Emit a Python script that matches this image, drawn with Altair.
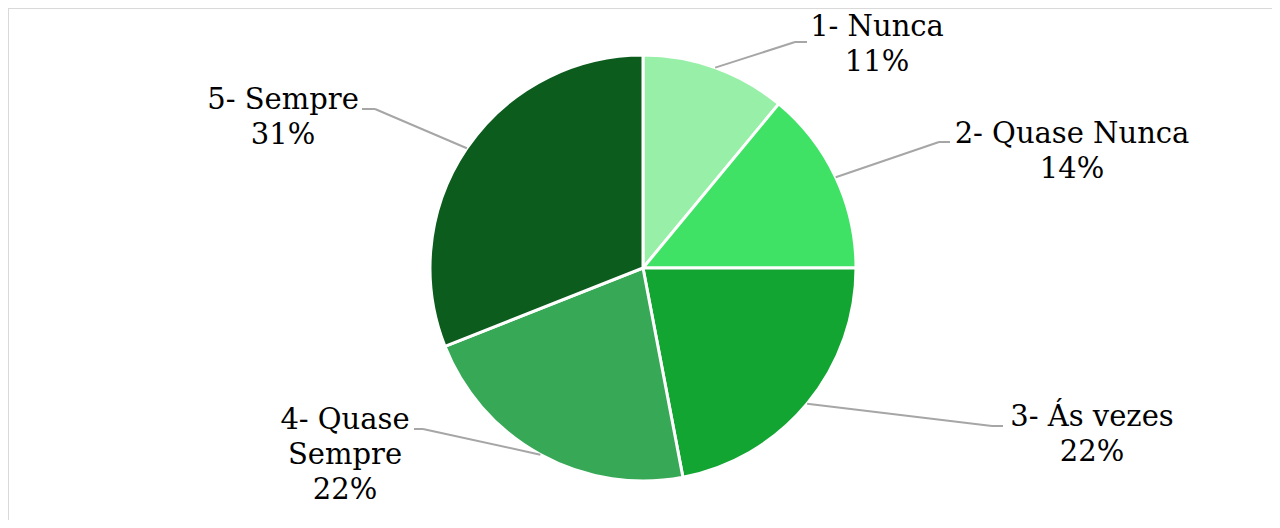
import altair as alt
import pandas as pd

# ---- data ----
categories = ["1- Nunca", "2- Quase Nunca", "3- Ás vezes", "4- Quase Sempre", "5- Sempre"]
label_lines = ["1- Nunca", "2- Quase Nunca", "3- Ás vezes", "4- Quase\nSempre", "5- Sempre"]
percents = [11, 14, 22, 22, 31]
colors = ["#98F0A8", "#3FE265", "#13A532", "#37A855", "#0C5C1E"]

# ---- layout (pixels, chart coordinates) ----
CX, CY, R = 635, 260, 213
label_x = [869, 1064, 1084, 337, 275]
label_y = [28, 135, 418, 421, 101]
elbow_x = [787, 931, 984, 415, 367]
elbow_y = [34, 134, 418, 421, 101]
end_x = [799, 942, 995, 406, 354]

FONT = "DejaVu Serif"

df = pd.DataFrame({
    "cat": categories,
    "pct": percents,
    "ord": list(range(len(categories))),
    "label": [f"{l}\n{p}%" for l, p in zip(label_lines, percents)],
    "lx": label_x,
    "ly": label_y,
    "ex": elbow_x,
    "ey": elbow_y,
    "hx": end_x,
})

base = alt.Chart(df)

pie = base.mark_arc(stroke="white", strokeWidth=3, outerRadius=R).encode(
    theta=alt.Theta("pct:Q", stack=True),
    color=alt.Color("cat:N", scale=alt.Scale(domain=categories, range=colors), legend=None),
    order=alt.Order("ord:Q"),
    x=alt.value(CX),
    y=alt.value(CY),
)

lead_base = base.transform_window(
    cum="sum(pct)", sort=[alt.SortField("ord")]
).transform_calculate(
    mid="(datum.cum - datum.pct / 2) / 100 * 2 * PI",
).transform_calculate(
    sx=f"{CX} + {R} * sin(datum.mid)",
    sy=f"{CY} - {R} * cos(datum.mid)",
)

diag = lead_base.mark_rule(color="#A6A6A6", strokeWidth=2).encode(
    x=alt.X("sx:Q", scale=None, axis=None),
    y=alt.Y("sy:Q", scale=None, axis=None),
    x2="ex:Q",
    y2="ey:Q",
)

horiz = base.mark_rule(color="#A6A6A6", strokeWidth=2).encode(
    x=alt.X("ex:Q", scale=None, axis=None),
    y=alt.Y("ey:Q", scale=None, axis=None),
    x2="hx:Q",
)

labels = base.mark_text(
    align="center", baseline="alphabetic", font=FONT,
    fontSize=29, lineHeight=35, lineBreak="\n", color="black",
).encode(
    x=alt.X("lx:Q", scale=None, axis=None),
    y=alt.Y("ly:Q", scale=None, axis=None),
    text="label:N",
)

frame_df = pd.DataFrame({"k": [0]})
top_line = alt.Chart(frame_df).mark_rule(color="#D9D9D9", strokeWidth=2).encode(
    x=alt.value(0), x2=alt.value(1264), y=alt.value(0)
)
left_line = alt.Chart(frame_df).mark_rule(color="#D9D9D9", strokeWidth=2).encode(
    x=alt.value(0), y=alt.value(0), y2=alt.value(512)
)

chart = alt.layer(top_line, left_line, pie, diag, horiz, labels).properties(
    width=1264, height=512, autosize="none", padding=0,
).configure_view(stroke=None)

chart.save("out.html", embed_options={"renderer": "svg", "actions": False})
